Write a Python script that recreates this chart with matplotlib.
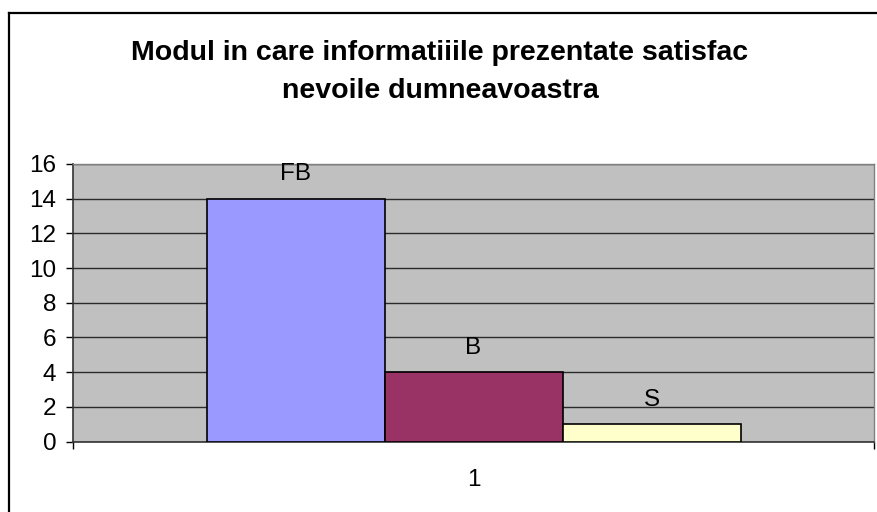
import matplotlib.pyplot as plt
from matplotlib.lines import Line2D

plt.rcParams['font.family'] = ['Liberation Sans', 'DejaVu Sans']

title = "Modul in care informatiiile prezentate satisfac\nnevoile dumneavoastra"
categories = ['FB', 'B', 'S']
values = [14, 4, 1]
colors = ['#9999FF', '#993366', '#FFFFCC']
xlabel = '1'

fig = plt.figure(figsize=(8.77, 5.12), dpi=100)
W, H = 877, 512
ax = fig.add_axes([73/W, 1-441.5/H, (874-73)/W, (441.5-164)/H])
ax.set_facecolor('#C0C0C0')

fs = 17.5
width = 2/9
for i, (cat, val, col) in enumerate(zip(categories, values, colors)):
    x = (i-1)*width
    ax.bar(x, val, width=width, color=col, edgecolor='black', linewidth=1.2, zorder=3)
    ax.annotate(cat, (x, val), xytext=(0, 17.5), textcoords='offset points',
                ha='center', va='center', fontsize=fs, zorder=4)

ax.set_xlim(-0.5, 0.5)
ax.set_ylim(0, 16)
ax.set_yticks(range(0, 17, 2))
ax.yaxis.grid(True, color='#2b2b2b', linewidth=1)
ax.set_axisbelow(True)
ax.tick_params(axis='y', direction='out', length=5, width=1, labelsize=fs, pad=7)
ax.set_xticks([0])
ax.set_xticklabels([xlabel], fontsize=fs)
ax.tick_params(axis='x', which='major', length=0, pad=19.5)
ax.set_xticks([-0.5, 0.5], minor=True)
ax.tick_params(axis='x', which='minor', direction='out', length=5, width=1)

for s in ['left', 'bottom']:
    ax.spines[s].set_color('#333333')
    ax.spines[s].set_linewidth(1.2)
for s in ['top', 'right']:
    ax.spines[s].set_color('#808080')
    ax.spines[s].set_linewidth(1)

fig.text(440/W, 1-71.5/H, title, ha='center', va='center', fontsize=20.5,
         fontweight='bold', linespacing=1.6)

# outer chart frame (only left and top edges visible)
fig.add_artist(Line2D([8.5/W, 8.5/W], [0, 1-13/H], color='black', linewidth=1.6))
fig.add_artist(Line2D([8.5/W, 1], [1-13/H, 1-13/H], color='black', linewidth=1.6))

fig.savefig('out.png', dpi=100)
